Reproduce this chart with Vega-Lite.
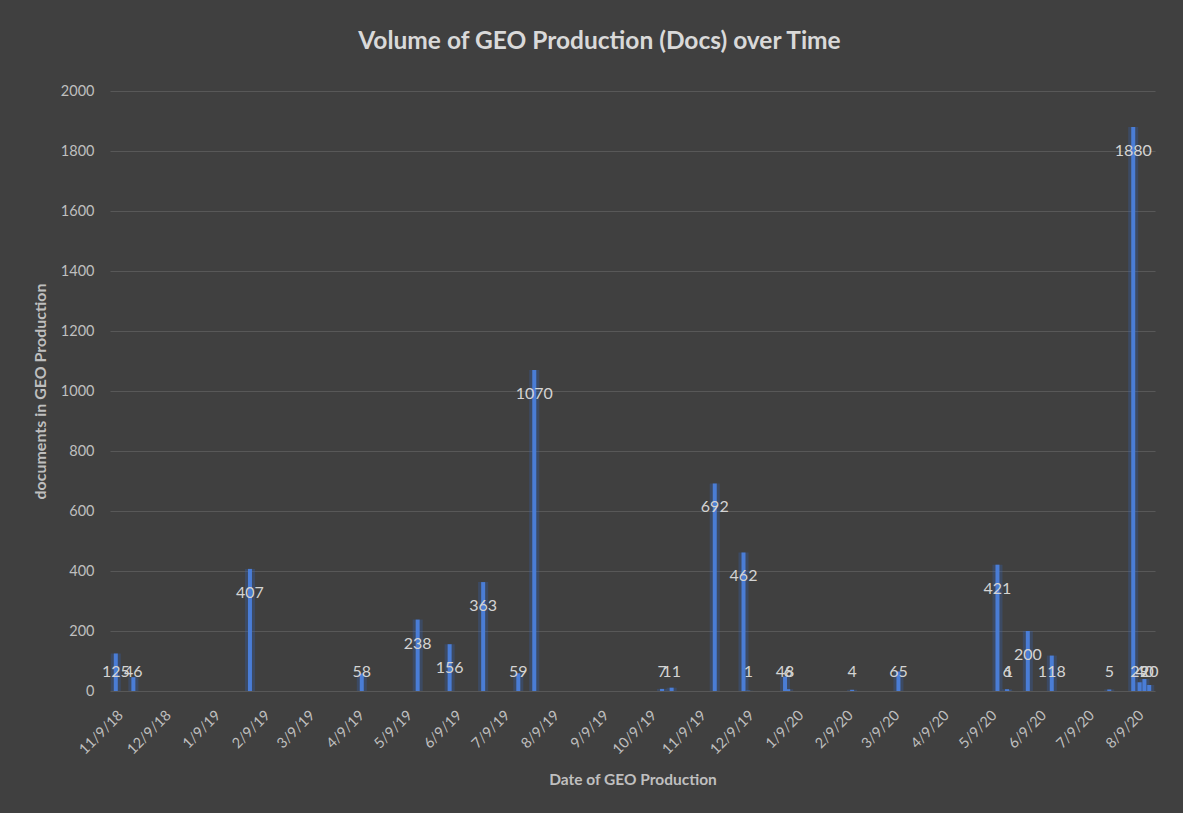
{
  "$schema": "https://vega.github.io/schema/vega-lite/v6.json",
  "width": 1045,
  "height": 600,
  "autosize": {"type": "none"},
  "padding": {"left": 110, "top": 91, "right": 28, "bottom": 122},
  "background": "#404040",
  "title": {
    "text": "Volume of GEO Production (Docs) over Time",
    "font": "Lato",
    "fontSize": 24.5,
    "fontWeight": "bold",
    "color": "#d9d9d9",
    "anchor": "middle",
    "dx": -33,
    "offset": 29
  },
  "data": {
    "values": [
      {"date": "2018-11-09", "docs": 125},
      {"date": "2018-11-20", "docs": 46},
      {"date": "2019-02-01", "docs": 407},
      {"date": "2019-04-12", "docs": 58},
      {"date": "2019-05-17", "docs": 238},
      {"date": "2019-06-06", "docs": 156},
      {"date": "2019-06-27", "docs": 363},
      {"date": "2019-07-19", "docs": 59},
      {"date": "2019-07-29", "docs": 1070},
      {"date": "2019-10-17", "docs": 7},
      {"date": "2019-10-23", "docs": 11},
      {"date": "2019-11-19", "docs": 692},
      {"date": "2019-12-07", "docs": 462},
      {"date": "2019-12-10", "docs": 1},
      {"date": "2020-01-02", "docs": 48},
      {"date": "2020-01-04", "docs": 6},
      {"date": "2020-02-13", "docs": 4},
      {"date": "2020-03-13", "docs": 65},
      {"date": "2020-05-14", "docs": 421},
      {"date": "2020-05-20", "docs": 6},
      {"date": "2020-05-21", "docs": 1},
      {"date": "2020-06-02", "docs": 200},
      {"date": "2020-06-17", "docs": 118},
      {"date": "2020-07-23", "docs": 5},
      {"date": "2020-08-07", "docs": 1880},
      {"date": "2020-08-11", "docs": 29},
      {"date": "2020-08-14", "docs": 40},
      {"date": "2020-08-17", "docs": 20}
    ]
  },
  "encoding": {
    "x": {
      "field": "date",
      "type": "temporal",
      "scale": {
        "type": "utc",
        "domain": [
          {"year": 2018, "month": 11, "date": 8, "hours": 12, "utc": true},
          {"year": 2020, "month": 8, "date": 17, "hours": 12, "utc": true}
        ]
      },
      "axis": {
        "title": "Date of GEO Production",
        "labelExpr": "utcFormat(datum.value, '%-m/%-d/%y')",
        "labelAngle": -45,
        "labelFont": "Lato",
        "labelFontSize": 14.5,
        "labelColor": "#bfbfbf",
        "labelPadding": 17,
        "labelOverlap": false,
        "labelBound": false,
        "labelFlush": false,
        "grid": false,
        "ticks": false,
        "domain": false,
        "titleFont": "Lato",
        "titleFontSize": 15.5,
        "titleFontWeight": "bold",
        "titleColor": "#bfbfbf",
        "titlePadding": 16,
        "values": [
          {"year": 2018, "month": 11, "date": 9, "utc": true},
          {"year": 2018, "month": 12, "date": 9, "utc": true},
          {"year": 2019, "month": 1, "date": 9, "utc": true},
          {"year": 2019, "month": 2, "date": 9, "utc": true},
          {"year": 2019, "month": 3, "date": 9, "utc": true},
          {"year": 2019, "month": 4, "date": 9, "utc": true},
          {"year": 2019, "month": 5, "date": 9, "utc": true},
          {"year": 2019, "month": 6, "date": 9, "utc": true},
          {"year": 2019, "month": 7, "date": 9, "utc": true},
          {"year": 2019, "month": 8, "date": 9, "utc": true},
          {"year": 2019, "month": 9, "date": 9, "utc": true},
          {"year": 2019, "month": 10, "date": 9, "utc": true},
          {"year": 2019, "month": 11, "date": 9, "utc": true},
          {"year": 2019, "month": 12, "date": 9, "utc": true},
          {"year": 2020, "month": 1, "date": 9, "utc": true},
          {"year": 2020, "month": 2, "date": 9, "utc": true},
          {"year": 2020, "month": 3, "date": 9, "utc": true},
          {"year": 2020, "month": 4, "date": 9, "utc": true},
          {"year": 2020, "month": 5, "date": 9, "utc": true},
          {"year": 2020, "month": 6, "date": 9, "utc": true},
          {"year": 2020, "month": 7, "date": 9, "utc": true},
          {"year": 2020, "month": 8, "date": 9, "utc": true}
        ]
      }
    }
  },
  "layer": [
    {
      "mark": {"type": "bar", "size": 10, "color": "#3563b5", "opacity": 0.3},
      "encoding": {
        "y": {
          "field": "docs",
          "type": "quantitative",
          "scale": {"domain": [0, 2000]},
          "axis": {
            "title": "documents in GEO Production",
            "values": [0, 200, 400, 600, 800, 1000, 1200, 1400, 1600, 1800, 2000],
            "format": "d",
            "labelFont": "Lato",
            "labelFontSize": 14.5,
            "labelColor": "#bfbfbf",
            "labelPadding": 16,
            "grid": true,
            "gridColor": "#585858",
            "gridWidth": 1,
            "ticks": false,
            "domain": false,
            "titleFont": "Lato",
            "titleFontSize": 16,
            "titleFontWeight": "bold",
            "titleColor": "#bfbfbf",
            "titlePadding": 12
          }
        }
      }
    },
    {
      "mark": {"type": "bar", "size": 4, "color": "#4a7dd6"},
      "encoding": {
        "y": {"field": "docs", "type": "quantitative"}
      }
    },
    {
      "transform": [
        {"calculate": "max(datum.docs - 80, 63)", "as": "labelPos"}
      ],
      "mark": {
        "type": "text",
        "font": "Lato",
        "fontSize": 16,
        "color": "#d4d4d4",
        "baseline": "middle",
        "align": "center"
      },
      "encoding": {
        "y": {"field": "labelPos", "type": "quantitative"},
        "text": {"field": "docs", "type": "quantitative"}
      }
    }
  ],
  "config": {
    "view": {"stroke": null}
  }
}
